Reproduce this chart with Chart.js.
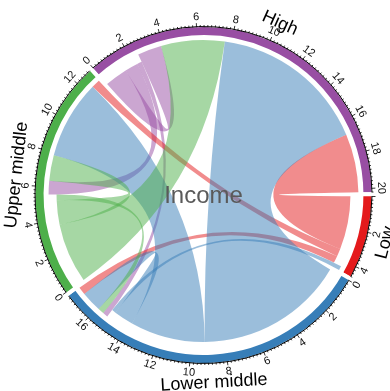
<!DOCTYPE html>
<html>
<head>
<meta charset="utf-8">
<script src="https://cdn.jsdelivr.net/npm/chart.js@4.4.1/dist/chart.umd.min.js"></script>
<style>
  html, body { margin: 0; padding: 0; background: #fff; }
  #wrap { width: 390px; height: 391px; position: relative; }
</style>
</head>
<body>
<div id="wrap"><canvas id="chart" width="390" height="391"></canvas></div>
<script>
// Income groups (sectors), drawn clockwise
const groups = ['High', 'Low', 'Lower middle', 'Upper middle'];
const groupColors = ['#984EA3', '#E41A1C', '#377EB8', '#4DAF4A'];

// Flows between groups: origin, destination, size
const linkFrom  = ['High', 'High', 'High', 'Low', 'Low', 'Low',
                   'Lower middle', 'Lower middle', 'Lower middle', 'Lower middle',
                   'Upper middle', 'Upper middle', 'Upper middle'];
const linkTo    = ['High', 'Lower middle', 'Upper middle', 'High', 'Lower middle', 'Upper middle',
                   'High', 'Low', 'Lower middle', 'Upper middle',
                   'High', 'Lower middle', 'Upper middle'];
const linkValue = [1.4, 0.3, 0.8, 3.4, 0.45, 0.5,
                   9.2, 0.25, 1.2, 4.6,
                   3.7, 0.35, 1.5];

// order in which link ends are stacked inside a sector (by partner group)
const endOrder = ['High', 'Upper middle', 'Lower middle', 'Low'];

// axis ticks
const majorStep = 2;
const minorStep = 0.2;
const centerTitle = 'Income';

const FONT = '"Liberation Sans", Arial, Helvetica, sans-serif';
const GAP = 1.5 * Math.PI / 180;

const sectorTotals = groups.map(g =>
  linkValue.reduce((s, v, i) => s + (linkFrom[i] === g ? v : 0) + (linkTo[i] === g ? v : 0), 0));

// stack link ends inside each sector: outgoing first, then incoming
const srcPos = [], tgtPos = [];
groups.forEach(g => {
  let pos = 0;
  const outs = linkValue.map((v, i) => i).filter(i => linkFrom[i] === g)
    .sort((a, b) => endOrder.indexOf(linkTo[a]) - endOrder.indexOf(linkTo[b]));
  const ins = linkValue.map((v, i) => i).filter(i => linkTo[i] === g)
    .sort((a, b) => endOrder.indexOf(linkFrom[a]) - endOrder.indexOf(linkFrom[b]));
  outs.forEach(i => { srcPos[i] = pos; pos += linkValue[i]; });
  ins.forEach(i => { tgtPos[i] = pos; pos += linkValue[i]; });
});

function withAlpha(hex, a) {
  const n = parseInt(hex.slice(1), 16);
  return `rgba(${(n >> 16) & 255},${(n >> 8) & 255},${n & 255},${a})`;
}

// straight text set tangent to the circle, turned round on the lower half
function circleText(ctx, cx, cy, text, r, a, font, color) {
  ctx.save();
  ctx.font = font;
  ctx.fillStyle = color;
  ctx.textAlign = 'center';
  ctx.textBaseline = 'middle';
  const flip = Math.sin(a) > 0.0001;
  ctx.translate(cx + r * Math.cos(a), cy + r * Math.sin(a));
  ctx.rotate(flip ? a - Math.PI / 2 : a + Math.PI / 2);
  ctx.fillText(text, 0, 0);
  ctx.restore();
}

const chordPlugin = {
  id: 'chordLinks',
  afterDatasetsDraw(chart) {
    const ctx = chart.ctx;
    const arcs = chart.getDatasetMeta(0).data;
    const sec = arcs.map((arc, k) => {
      const p = arc.getProps(['x', 'y', 'startAngle', 'endAngle', 'innerRadius', 'outerRadius'], true);
      const a0 = p.startAngle + GAP / 2;
      const scale = (p.endAngle - p.startAngle - GAP) / sectorTotals[k];
      return { cx: p.x, cy: p.y, a0, scale, rIn: p.innerRadius, rOut: p.outerRadius };
    });
    const cx = sec[0].cx, cy = sec[0].cy;
    const ringOut = sec[0].rOut - 2;
    const rTall = sec[0].rIn - 3;
    const rShort = rTall - 8;
    const ang = (k, u) => sec[k].a0 + u * sec[k].scale;

    // links
    linkValue.forEach((v, i) => {
      const s = groups.indexOf(linkFrom[i]);
      const t = groups.indexOf(linkTo[i]);
      const s0 = ang(s, srcPos[i]), s1 = ang(s, srcPos[i] + v);
      const t0 = ang(t, tgtPos[i]), t1 = ang(t, tgtPos[i] + v);
      ctx.save();
      ctx.beginPath();
      ctx.moveTo(cx + rShort * Math.cos(s0), cy + rShort * Math.sin(s0));
      ctx.arc(cx, cy, rShort, s0, s1);
      ctx.quadraticCurveTo(cx, cy, cx + rTall * Math.cos(t0), cy + rTall * Math.sin(t0));
      ctx.arc(cx, cy, rTall, t0, t1);
      ctx.quadraticCurveTo(cx, cy, cx + rShort * Math.cos(s0), cy + rShort * Math.sin(s0));
      ctx.closePath();
      ctx.fillStyle = withAlpha(groupColors[s], 0.5);
      ctx.fill();
      ctx.restore();
    });

    // axis line, ticks and labels
    ctx.save();
    ctx.strokeStyle = '#000';
    let lastLabelAngle = null;
    const minLabelSep = 9 / (ringOut + 9);
    sec.forEach((sc, k) => {
      ctx.lineWidth = 1;
      ctx.beginPath();
      ctx.arc(cx, cy, ringOut + 0.5, ang(k, 0), ang(k, sectorTotals[k]));
      ctx.stroke();
      ctx.lineWidth = 0.8;
      const n = Math.floor(sectorTotals[k] / minorStep + 1e-6);
      for (let j = 0; j <= n; j++) {
        const u = j * minorStep;
        const major = Math.abs(u / majorStep - Math.round(u / majorStep)) < 1e-6;
        const a = ang(k, u);
        const len = major ? 4 : 2;
        ctx.beginPath();
        ctx.moveTo(cx + ringOut * Math.cos(a), cy + ringOut * Math.sin(a));
        ctx.lineTo(cx + (ringOut + len) * Math.cos(a), cy + (ringOut + len) * Math.sin(a));
        ctx.stroke();
      }
      for (let u = 0; u <= sectorTotals[k] + 1e-6; u += majorStep) {
        const a = ang(k, u);
        if (lastLabelAngle !== null && Math.abs(a - lastLabelAngle) < minLabelSep) continue;
        circleText(ctx, cx, cy, String(Math.round(u)), ringOut + 10, a, '11px ' + FONT, '#111');
        lastLabelAngle = a;
      }
      const mid = sc.a0 + sectorTotals[k] * sc.scale / 2;
      circleText(ctx, cx, cy, groups[k], ringOut + 20, mid, '18px ' + FONT, '#000');
    });
    ctx.restore();

    // centre title
    ctx.save();
    ctx.font = '24px ' + FONT;
    ctx.fillStyle = '#5a5a5a';
    ctx.textAlign = 'center';
    ctx.textBaseline = 'alphabetic';
    ctx.fillText(centerTitle, cx, cy + 8);
    ctx.restore();
  }
};

new Chart(document.getElementById('chart'), {
  type: 'doughnut',
  data: {
    labels: groups,
    datasets: [{
      data: sectorTotals,
      backgroundColor: groupColors,
      borderColor: '#ffffff',
      borderWidth: 4,
      borderAlign: 'center',
      hoverOffset: 0
    }]
  },
  options: {
    responsive: false,
    devicePixelRatio: 1,
    animation: false,
    rotation: -41.75,
    radius: 170,
    cutout: '92.9%',
    layout: { padding: { left: 17, right: 0, top: 0, bottom: 1 } },
    plugins: { legend: { display: false }, tooltip: { enabled: false } },
    events: []
  },
  plugins: [chordPlugin]
});
</script>
</body>
</html>
